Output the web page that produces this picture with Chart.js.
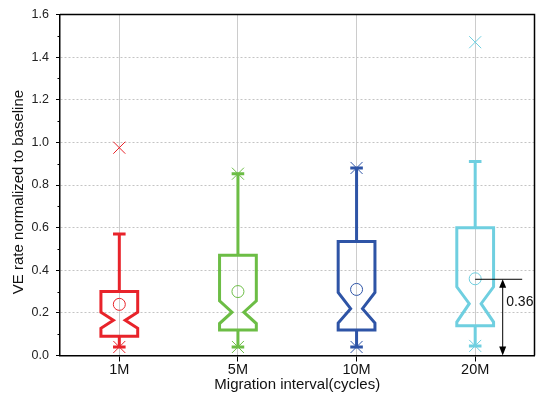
<!DOCTYPE html>
<html>
<head>
<meta charset="utf-8">
<script src="https://cdn.jsdelivr.net/npm/chart.js@4"></script>
<style>
  html, body { margin: 0; padding: 0; background: #fff; }
  canvas { display: block; }
</style>
</head>
<body>
<canvas class="chart" width="544" height="397"></canvas>
<script>
const categories = ["1M", "5M", "10M", "20M"];
const colors = ["#e8232a", "#6cbd45", "#2e54a6", "#6fcfe0"];

// box statistics
const q1 = [0.09, 0.12, 0.12, 0.14];
const q3 = [0.30, 0.47, 0.535, 0.60];
const median = [0.165, 0.203, 0.22, 0.243];
const notchLow = [0.128, 0.15, 0.152, 0.157];
const notchHigh = [0.203, 0.257, 0.296, 0.322];
const whiskerLow = [0.04, 0.04, 0.04, 0.045];
const whiskerHigh = [0.57, 0.853, 0.88, 0.91];
const means = [0.24, 0.30, 0.31, 0.36];
const maxima = [0.975, 0.853, 0.88, 1.47];
const minima = [0.04, 0.04, 0.04, 0.045];

const yTicks = [0, 0.2, 0.4, 0.6, 0.8, 1.0, 1.2, 1.4, 1.6];
const yMinorTicks = [0.1, 0.3, 0.5, 0.7, 0.9, 1.1, 1.3, 1.5];
const annotatedIndex = 3;

const FONT = "'Liberation Sans', Arial, sans-serif";

const boxPlot = {
  id: "boxPlot",
  beforeDatasetsDraw(chart) {
    const { ctx, scales: { x, y } } = chart;
    const step = x.getPixelForValue(1) - x.getPixelForValue(0);
    const hw = step * 0.155;
    const nw = step * 0.05;
    const cw = step * 0.053;
    ctx.save();
    ctx.lineWidth = 3;
    ctx.lineJoin = "miter";
    ctx.lineCap = "butt";
    categories.forEach((c, i) => {
      const cx = x.getPixelForValue(i);
      const yq1 = y.getPixelForValue(q1[i]);
      const yq3 = y.getPixelForValue(q3[i]);
      const ymed = y.getPixelForValue(median[i]);
      const ynl = y.getPixelForValue(notchLow[i]);
      const ynh = y.getPixelForValue(notchHigh[i]);
      const ywl = y.getPixelForValue(whiskerLow[i]);
      const ywh = y.getPixelForValue(whiskerHigh[i]);
      ctx.strokeStyle = colors[i];

      // whiskers and caps
      ctx.beginPath();
      ctx.moveTo(cx, yq3);
      ctx.lineTo(cx, ywh);
      ctx.moveTo(cx, yq1);
      ctx.lineTo(cx, ywl);
      ctx.moveTo(cx - cw, ywh);
      ctx.lineTo(cx + cw, ywh);
      ctx.moveTo(cx - cw, ywl);
      ctx.lineTo(cx + cw, ywl);
      ctx.stroke();

      // notched box
      ctx.beginPath();
      ctx.moveTo(cx - hw, yq3);
      ctx.lineTo(cx + hw, yq3);
      ctx.lineTo(cx + hw, ynh);
      ctx.lineTo(cx + nw, ymed);
      ctx.lineTo(cx + hw, ynl);
      ctx.lineTo(cx + hw, yq1);
      ctx.lineTo(cx - hw, yq1);
      ctx.lineTo(cx - hw, ynl);
      ctx.lineTo(cx - nw, ymed);
      ctx.lineTo(cx - hw, ynh);
      ctx.closePath();
      ctx.stroke();
    });
    ctx.restore();
  },
  afterDraw(chart) {
    const { ctx, chartArea: a, scales: { x, y } } = chart;
    ctx.save();

    // frame top and right
    ctx.strokeStyle = "#000";
    ctx.lineWidth = 1.5;
    ctx.beginPath();
    ctx.moveTo(a.left, a.top);
    ctx.lineTo(a.right, a.top);
    ctx.lineTo(a.right, a.bottom);
    ctx.stroke();

    // minor ticks on y
    ctx.lineWidth = 1;
    ctx.beginPath();
    yMinorTicks.forEach(v => {
      const py = Math.round(y.getPixelForValue(v)) + 0.5;
      ctx.moveTo(a.left - 2.5, py);
      ctx.lineTo(a.left, py);
    });
    ctx.stroke();

    // y title
    ctx.fillStyle = "#111";
    ctx.font = "15px " + FONT;
    ctx.textAlign = "center";
    ctx.textBaseline = "middle";
    ctx.translate(19, 192);
    ctx.rotate(-Math.PI / 2);
    ctx.fillText("VE rate normalized to baseline", 0, 0);
    ctx.setTransform(1, 0, 0, 1, 0, 0);

    // annotation of mean value
    const cx = x.getPixelForValue(annotatedIndex);
    const ym = y.getPixelForValue(means[annotatedIndex]);
    const y0 = y.getPixelForValue(0);
    const ax = cx + 27;
    ctx.strokeStyle = "#000";
    ctx.fillStyle = "#000";
    ctx.lineWidth = 1;
    ctx.beginPath();
    ctx.moveTo(cx, ym + 0.5);
    ctx.lineTo(cx + 47, ym + 0.5);
    ctx.moveTo(ax + 0.5, ym + 6);
    ctx.lineTo(ax + 0.5, y0 - 6);
    ctx.stroke();
    ctx.beginPath();
    ctx.moveTo(ax + 0.5, ym + 0.5);
    ctx.lineTo(ax - 3, ym + 9);
    ctx.lineTo(ax + 4, ym + 9);
    ctx.closePath();
    ctx.moveTo(ax + 0.5, y0);
    ctx.lineTo(ax - 3, y0 - 9);
    ctx.lineTo(ax + 4, y0 - 9);
    ctx.closePath();
    ctx.fill();
    ctx.font = "14px " + FONT;
    ctx.textAlign = "left";
    ctx.textBaseline = "middle";
    ctx.fillStyle = "#111";
    ctx.fillText(means[annotatedIndex].toFixed(2), cx + 31, (ym + y0) / 2 - 15);

    ctx.restore();
  }
};

const markerSet = (label, values, style, radius) => ({
  label: label,
  data: values,
  showLine: false,
  pointStyle: style,
  pointRadius: radius,
  pointHoverRadius: radius,
  pointBorderWidth: 1,
  pointBorderColor: colors,
  pointBackgroundColor: "rgba(0,0,0,0)"
});

const config = {
  type: "line",
  data: {
    labels: categories,
    datasets: [
      markerSet("Mean", means, "circle", 6),
      markerSet("Max", maxima, "crossRot", 8.5),
      markerSet("Min", minima, "crossRot", 8.5)
    ]
  },
  options: {
    responsive: false,
    animation: false,
    layout: { padding: { top: 10, right: 2, left: 0, bottom: 0 } },
    plugins: {
      legend: { display: false },
      tooltip: { enabled: false }
    },
    scales: {
      x: {
        offset: true,
        afterFit: (scale) => { scale.height = 41.5; },
        grid: {
          offset: false,
          color: "#cccccc",
          lineWidth: 1,
          tickColor: "#000",
          tickLength: 6,
          tickWidth: 1
        },
        border: { display: true, color: "#000", width: 1.5, dash: [] },
        ticks: {
          padding: 0,
          color: "#111",
          font: { family: FONT, size: 14.5 }
        },
        title: {
          display: true,
          text: "Migration interval(cycles)",
          color: "#111",
          font: { family: FONT, size: 15 },
          padding: { top: 0, bottom: 3.5 }
        }
      },
      y: {
        min: 0,
        max: 1.6,
        afterFit: (scale) => { scale.width = 60; },
        afterBuildTicks: (scale) => { scale.ticks = yTicks.map(v => ({ value: v })); },
        grid: {
          color: "#c4c4c4",
          lineWidth: 1,
          tickColor: "#000",
          tickLength: 4,
          tickWidth: 1,
          tickBorderDash: []
        },
        border: { display: true, color: "#000", width: 1.5, dash: [2, 2] },
        ticks: {
          padding: 7,
          color: "#222",
          font: { family: FONT, size: 12.5 },
          callback: (value) => Number(value).toFixed(1)
        }
      }
    }
  },
  plugins: [boxPlot]
};

const chart = new Chart(document.querySelector(".chart"), config);
</script>
</body>
</html>
